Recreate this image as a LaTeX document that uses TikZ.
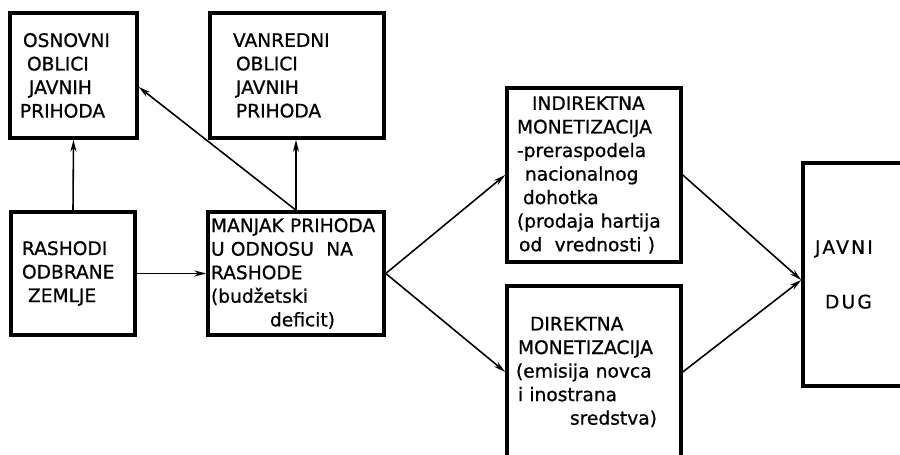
\documentclass[tikz,border=0pt]{standalone}
\usepackage{fontspec}
\setmainfont{DejaVu Sans}[FakeBold=0.8]
\usetikzlibrary{arrows.meta}

\tikzset{
  blok/.style={draw, line width=2pt, align=left, inner ysep=0pt,
    font=\fontsize{10.6}{13.4}\selectfont},
  veza/.style={line width=0.9pt, -{Stealth[length=2.4mm,width=1.2mm]}}
}

\begin{document}
\begin{tikzpicture}
\useasboundingbox (0,0) rectangle (18,9.1);
\clip (0,0) rectangle (18,9.1);
\node[blok, minimum width=2.54cm, minimum height=2.5cm, text width=2.14cm, inner xsep=0.2cm] (osnovni) at (1.47,7.59)
  {\hspace*{0.06cm}OSNOVNI\\\hspace*{0.14cm}OBLICI\\\hspace*{0.18cm}JAVNIH\\PRIHODA};
\node[blok, minimum width=3.48cm, minimum height=2.5cm, text width=2.56cm, inner xsep=0.46cm] (vanredni) at (5.94,7.59)
  {VANREDNI\\\hspace*{0.06cm}OBLICI\\\hspace*{0.06cm}JAVNIH\\\hspace*{0.06cm}PRIHODA};
\node[blok, minimum width=2.48cm, minimum height=2.46cm, text width=2.04cm, inner xsep=0.22cm] (rashodi) at (1.46,3.63)
  {RASHODI\\ODBRANE\\\hspace*{0.12cm}ZEMLJE};
\node[blok, minimum width=3.52cm, minimum height=2.46cm, text width=3.4cm, inner xsep=0.06cm] (manjak) at (5.92,3.63)
  {MANJAK PRIHODA\\U ODNOSU\ \ NA\\RASHODE\\(budžetski\\\hspace*{1.18cm}deficit)};
\node[blok, minimum width=3.48cm, minimum height=3.48cm, text width=3.08cm, inner xsep=0.2cm] (indirektna) at (11.88,5.6)
  {\hspace*{0.3cm}INDIREKTNA\\MONETIZACIJA\\-preraspodela\\\hspace*{0.16cm}nacionalnog\\\hspace*{0.12cm}dohotka\\(prodaja hartija\\\hspace*{0.04cm}od\ \ vrednosti )};
\node[blok, minimum width=3.48cm, minimum height=3.44cm, text width=3.12cm, inner xsep=0.18cm] (direktna) at (11.88,1.66)
  {\hspace*{0.28cm}DIREKTNA\\\hspace*{0.04cm}MONETIZACIJA\\(emisija novca\\\hspace*{0.04cm}i inostrana\\\hspace*{1.08cm}sredstva)};
\node[blok, minimum width=2.04cm, minimum height=4.46cm, text width=1.56cm, inner xsep=0.24cm] (javni) at (17.08,3.61)
  {\addfontfeature{LetterSpace=12}JAVNI\\[0.62cm]\hspace*{0.2cm}\addfontfeature{LetterSpace=12}DUG};
\draw[veza] (rashodi.north) -- (osnovni.south);
\draw[veza] (manjak.north) -- (manjak.north |- vanredni.south);
\draw[veza] (manjak.north) -- (osnovni.-10);
\draw[veza] (rashodi.east) -- (manjak.west);
\draw[veza] (manjak.east) -- (indirektna.west);
\draw[veza] (manjak.east) -- (direktna.west);
\draw[veza] (indirektna.east) -- (javni.186);
\draw[veza] (direktna.east) -- (javni.186);
\end{tikzpicture}
\end{document}
